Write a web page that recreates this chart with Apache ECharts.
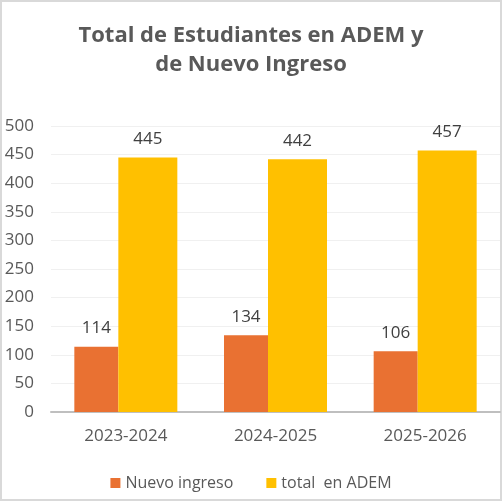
<!DOCTYPE html>
<html>
	<head>
		<meta charset="utf-8">
		<title></title>
		<script src="https://cdn.jsdelivr.net/npm/echarts@6/dist/echarts.min.js"></script>
		<style>
			body { margin: 0; }
		</style>
	</head>
	<body>
		<div id="main" style="width: 502px;height:501px;"></div>
		<script type="text/javascript">
		var years = ['2023-2024', '2024-2025', '2025-2026'];
		var nuevo = [114, 134, 106];
		var total = [445, 442, 457];
		var gris = '#595959';

		var myChart = echarts.init(document.getElementById('main'));
		myChart.setOption({
		  color: ['#E97132', '#FFC000'],
		  textStyle: { fontFamily: 'Open Sans' },
		  graphic: [{
		    type: 'rect',
		    shape: { x: 1, y: 1, width: 500, height: 499 },
		    style: { fill: 'none', stroke: '#d9d9d9', lineWidth: 2 }
		  }],
		  title: {
		    text: 'Total de Estudiantes en ADEM y\nde Nuevo Ingreso',
		    left: 'center',
		    top: 16,
		    textStyle: { color: gris, fontSize: 22, fontWeight: 'bold', lineHeight: 29, fontFamily: 'Open Sans' }
		  },
		  legend: {
		    bottom: 5,
		    left: 'center',
		    itemWidth: 10,
		    itemHeight: 10,
		    itemGap: 33,
		    icon: 'rect',
		    textStyle: { color: gris, fontSize: 16 },
		    data: ['Nuevo ingreso', 'total  en ADEM']
		  },
		  grid: { left: 51, right: 2, top: 126, bottom: 89 },
		  xAxis: [{
		    type: 'category',
		    data: years,
		    axisLine: { lineStyle: { color: '#bfbfbf', width: 2 } },
		    axisTick: { show: false },
		    axisLabel: { color: gris, fontSize: 17, margin: 16 }
		  }],
		  yAxis: [{
		    type: 'value',
		    min: 0,
		    max: 500,
		    interval: 50,
		    axisLine: { show: false },
		    axisTick: { show: false },
		    splitLine: { lineStyle: { color: '#f0f0f0', width: 1 } },
		    axisLabel: { color: gris, fontSize: 17, margin: 17 }
		  }],
		  series: [
		    {
		      name: 'Nuevo ingreso',
		      type: 'bar',
		      barWidth: 44,
		      barGap: '0%',
		      label: { show: true, position: 'top', distance: 10, color: '#404040', fontSize: 17 },
		      data: nuevo
		    },
		    {
		      name: 'total  en ADEM',
		      type: 'bar',
		      barWidth: 59,
		      barGap: '0%',
		      label: { show: true, position: 'top', distance: 10, color: '#404040', fontSize: 17 },
		      data: total
		    }
		  ]
		});
		</script>
	</body>
</html>
